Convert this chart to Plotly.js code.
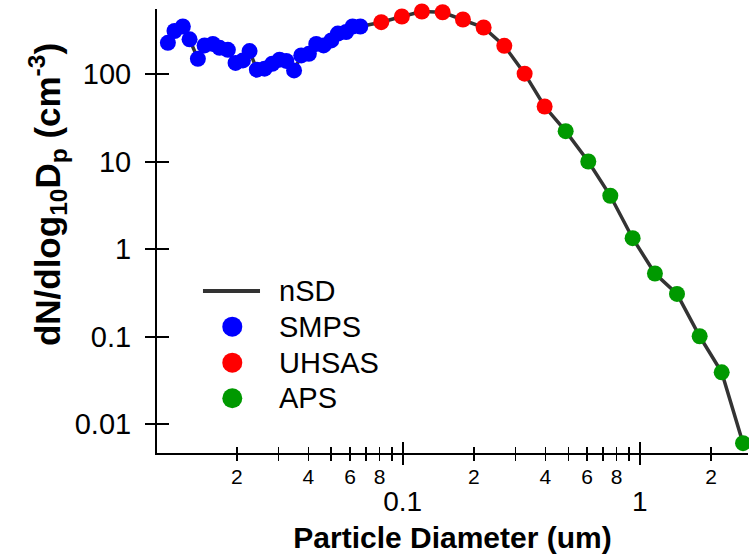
<!DOCTYPE html>
<html><head><meta charset="utf-8">
<script src="https://cdn.plot.ly/plotly-3.0.1.min.js"></script>
<style>html,body{margin:0;padding:0;background:#fff}</style>
</head><body><div id="chart" style="width:749px;height:555px"></div>
<script>
const smpsD = [0.01023,0.01091,0.01183,0.01263,0.01369,0.01461,0.01584,0.01690,0.01832,0.01974,0.02120,0.02262,0.02428,0.02617,0.02820,0.03027,0.03231,0.03485,0.03737,0.04024,0.04323,0.04642,0.05003,0.05333,0.05777,0.06152,0.06630];
const smpsN = [227,310,349,249,149,212,221,199,189,134,143,183,112,115,131,146,141,110,163,170,221,212,242,290,302,349,349];
const uhsasD = [0.0813,0.0993,0.1206,0.1475,0.1797,0.2197,0.2686,0.3272,0.3973];
const uhsasN = [391,454,518,508,420,340,210,101,42.5];
const apsD = [0.4874,0.6073,0.752,0.934,1.16,1.437,1.791,2.218,2.729];
const apsN = [22.2,10.0,4.06,1.33,0.525,0.307,0.1007,0.039,0.00604];

const seriesNames = ['nSD','SMPS','UHSAS','APS'];
const seriesColors = ['#333333','#0000ff','#ff0000','#009900'];

const yTickVals = [0.01,0.1,1,10,100];
const yTickText = ["0.01","0.1","1","10","100"];
const xMajorVals = [0.1,1];
const xMajorText = ["0.1","1"];
const xMinorLabelVals = [0.02,0.04,0.06,0.08,0.2,0.4,0.6,0.8,2];
const xMinorLabelText = ["2","4","6","8","2","4","6","8","2"];
const xMinorOtherVals = [0.03,0.05,0.07,0.09,0.3,0.5,0.7,0.9];
const xAllMinorVals = xMinorLabelVals.concat(xMinorOtherVals);

const FONT = 'Liberation Sans, Arial, Helvetica, sans-serif';
const xRange = [-2.036, 0.457];
const yRange = [-2.331, 2.743];

const traces = [
  {name:seriesNames[0], x: smpsD.concat(uhsasD, apsD), y: smpsN.concat(uhsasN, apsN), mode:'lines',
   line:{color:seriesColors[0], width:3.5}, type:'scatter', cliponaxis:false},
  {name:seriesNames[1], x: smpsD, y: smpsN, mode:'markers', marker:{color:seriesColors[1], size:16}, cliponaxis:false, type:'scatter'},
  {name:seriesNames[2], x: uhsasD, y: uhsasN, mode:'markers', marker:{color:seriesColors[2], size:16}, cliponaxis:false, type:'scatter'},
  {name:seriesNames[3], x: apsD, y: apsN, mode:'markers', marker:{color:seriesColors[3], size:16}, cliponaxis:false, type:'scatter'},
  {x:[], y:[], xaxis:'x2', yaxis:'y', showlegend:false, type:'scatter', hoverinfo:'skip'},
  {x:[], y:[], xaxis:'x3', yaxis:'y', showlegend:false, type:'scatter', hoverinfo:'skip'},
  {x:[], y:[], xaxis:'x', yaxis:'y2', showlegend:false, type:'scatter', hoverinfo:'skip'}
];

const baseX = {type:'log', range:xRange, showgrid:false, zeroline:false, tickcolor:'#000', tickmode:'array', fixedrange:true};
const baseY = {type:'log', range:yRange, showgrid:false, zeroline:false, tickcolor:'#000', tickmode:'array', fixedrange:true};

// manual legend (paper coordinates)
const legX0 = 0.0778, legX1 = 0.1743, legMarkX = 0.1274, legTextX = 0.2025;
const legRows = [0.3649, 0.2845, 0.2034, 0.1232];
const shapes = [
  {type:'line', xref:'paper', yref:'paper', x0:legX0, x1:legX1, y0:legRows[0], y1:legRows[0],
   line:{color:seriesColors[0], width:4}}
];
for (let i = 1; i < 4; i++) {
  shapes.push({type:'circle', xref:'paper', yref:'paper', xsizemode:'pixel', ysizemode:'pixel',
    xanchor:legMarkX, yanchor:legRows[i], x0:-10, x1:10, y0:-10, y1:10,
    fillcolor:seriesColors[i], line:{width:0}});
}
const annotations = [{
  text:'dN/dlog<sub>10</sub>D<sub>p</sub> (cm<sup>-3</sup>)', xref:'paper', yref:'paper',
  x:-0.186, y:0.581, xanchor:'center', yanchor:'middle', textangle:-90, showarrow:false,
  font:{size:35, family:FONT, color:'#000', weight:'bold'}
}];
for (let i = 0; i < 4; i++) {
  annotations.push({text:seriesNames[i], xref:'paper', yref:'paper', x:legTextX, y:legRows[i],
    xanchor:'left', yanchor:'middle', showarrow:false, font:{size:29, family:FONT, color:'#000'}});
}

const layout = {
  width:749, height:555,
  margin:{l:157, r:1, t:9, b:102},
  paper_bgcolor:'#fff', plot_bgcolor:'#fff',
  font:{family:FONT, color:'#000'},
  showlegend:false,
  xaxis: Object.assign({}, baseX, {
    showline:true, linecolor:'#000', linewidth:2,
    ticks:'outside', ticklen:6, tickwidth:1.5,
    tickvals:xMinorLabelVals, ticktext:xMinorLabelText, tickfont:{size:21, family:FONT, color:'#000'},
    ticklabelstandoff:-2,
    minor:{tickmode:'array', tickvals:xMinorOtherVals, ticks:'outside', ticklen:6, tickwidth:1.5, tickcolor:'#000', showgrid:false}
  }),
  xaxis2: Object.assign({}, baseX, {
    overlaying:'x', anchor:'y', side:'bottom', showline:false,
    ticks:'outside', ticklen:11, tickwidth:2,
    tickvals:xMajorVals, ticktext:xMajorText, tickfont:{size:28, family:FONT, color:'#000'},
    ticklabelstandoff:12,
    minor:{tickmode:'array', tickvals:xAllMinorVals, ticks:'inside', ticklen:6, tickwidth:1.5, tickcolor:'#000', showgrid:false},
    title:{text:'Particle Diameter (um)', font:{size:30, family:FONT, color:'#000', weight:'bold'}, standoff:11}
  }),
  xaxis3: Object.assign({}, baseX, {
    overlaying:'x', anchor:'y', side:'bottom', showline:false,
    ticks:'inside', ticklen:11, tickwidth:2, tickvals:xMajorVals, showticklabels:false
  }),
  yaxis: Object.assign({}, baseY, {
    showline:true, linecolor:'#000', linewidth:2,
    ticks:'outside', ticklen:10, tickwidth:2,
    tickvals:yTickVals, ticktext:yTickText, tickfont:{size:29, family:FONT, color:'#000'},
    ticklabelstandoff:8
  }),
  yaxis2: Object.assign({}, baseY, {
    overlaying:'y', anchor:'x', side:'left', showline:false,
    ticks:'inside', ticklen:12, tickwidth:2, tickvals:yTickVals, showticklabels:false
  }),
  shapes: shapes,
  annotations: annotations
};

Plotly.newPlot('chart', traces, layout, {displayModeBar:false, staticPlot:true});
</script>
</body></html>
